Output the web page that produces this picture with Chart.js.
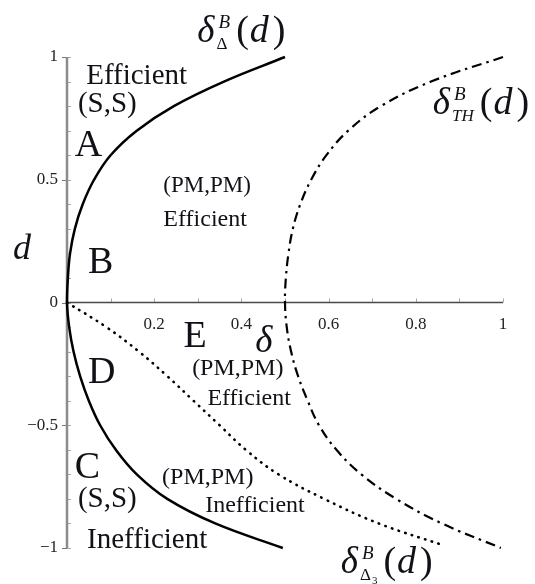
<!DOCTYPE html>
<html>
<head>
<meta charset="utf-8">
<script src="https://cdn.jsdelivr.net/npm/chart.js@4/dist/chart.umd.min.js"></script>
<style>
  html, body { margin: 0; padding: 0; background: #fff; }
</style>
</head>
<body>
<canvas id="graphique" width="535" height="584"></canvas>
<script>
// valeurs de d (axe vertical), du haut vers le bas
const valeursD = [1, 0.9, 0.8, 0.7, 0.6, 0.5, 0.4, 0.3, 0.2, 0.1, 0, -0.1, -0.2, -0.3, -0.4, -0.5, -0.6, -0.7, -0.8, -0.9, -1];
// delta_Delta^B(d) : courbe pleine
const deltaDelta = [0.5, 0.36, 0.245, 0.16, 0.1, 0.062, 0.036, 0.018, 0.007, 0.002, 0, 0.005, 0.015, 0.03, 0.05, 0.076, 0.112, 0.16, 0.23, 0.34, 0.495];
// delta_TH^B(d) : courbe trait-point
const deltaTH = [1.0, 0.835, 0.72, 0.645, 0.595, 0.56, 0.535, 0.518, 0.508, 0.502, 0.5, 0.504, 0.514, 0.53, 0.552, 0.578, 0.618, 0.675, 0.755, 0.86, 0.995];
// delta_Delta3^B(d) : courbe pointillee, seulement pour d <= 0
const valeursD3 = [0, -0.1, -0.2, -0.3, -0.4, -0.5, -0.6, -0.7, -0.8, -0.9, -0.99];
const deltaDelta3 = [0, 0.09, 0.165, 0.23, 0.29, 0.35, 0.41, 0.485, 0.59, 0.715, 0.865];

const ticksX = [0.2, 0.4, 0.6, 0.8, 1];
const ticksY = [1, 0.5, 0, -0.5, -1];

// textes des zones : [texte, delta, d, taille, italique]
const zones = [
    ["Efficient", 0.044, 0.89, 29, false],
    ["(S,S)", 0.025, 0.776, 29, false],
    ["A", 0.018, 0.596, 38, false],
    ["(PM,PM)", 0.221, 0.449, 23, false],
    ["Efficient", 0.221, 0.31, 24, false],
    ["B", 0.048, 0.122, 38, false],
    ["E", 0.267, -0.18, 38, false],
    ["D", 0.048, -0.327, 38, false],
    ["(PM,PM)", 0.287, -0.294, 24, false],
    ["Efficient", 0.322, -0.416, 24, false],
    ["C", 0.018, -0.714, 38, false],
    ["(S,S)", 0.025, -0.833, 29, false],
    ["Inefficient", 0.046, -1.0, 29, false],
    ["(PM,PM)", 0.218, -0.739, 24, false],
    ["Inefficient", 0.317, -0.853, 24, false],
    ["d", -0.124, 0.176, 36, true],
    ["\u03b4", 0.432, -0.2, 37, true]
];

// noms des courbes : [indice, italique, petit indice, delta, d]
const nomsCourbes = [
    ["\u0394", false, "", 0.299, 1.061],
    ["TH", true, "", 0.839, 0.767],
    ["\u0394", false, "3", 0.628, -1.102]
];

const SERIF = "'Liberation Serif', 'DejaVu Serif', serif";
const ENCRE = "#111118";

function points(xs, ys) {
    let p = [];
    for (let n = 0; n < xs.length; n++) {
        p.push({x: xs[n], y: ys[n]});
    }
    return p;
}

function police(taille, italique) {
    return (italique ? "italic " : "") + taille + "px " + SERIF;
}

// nom de courbe du genre delta^B_TH(d)
function dessinerNom(ctx, x, y, indice, italique, petit) {
    ctx.textAlign = "left";
    ctx.textBaseline = "alphabetic";
    ctx.font = police(37, true);
    ctx.fillText("\u03b4", x, y);
    let x0 = x + ctx.measureText("\u03b4").width + 2;
    ctx.font = police(19, true);
    ctx.fillText("B", x0 + 2, y - 14);
    let lB = ctx.measureText("B").width + 2;
    ctx.font = police(17, italique);
    ctx.fillText(indice, x0, y + 7);
    let lI = ctx.measureText(indice).width;
    if (petit) {
        ctx.font = police(11, false);
        ctx.fillText(petit, x0 + lI + 1, y + 11);
        lI += ctx.measureText(petit).width + 1;
    }
    let xp = x0 + Math.max(lB, lI) + 6;
    ctx.font = police(38, false);
    ctx.fillText("(", xp, y);
    xp += ctx.measureText("(").width + 1;
    ctx.font = police(38, true);
    ctx.fillText("d", xp, y);
    xp += ctx.measureText("d").width + 4;
    ctx.font = police(38, false);
    ctx.fillText(")", xp, y);
}

// axes qui se croisent en (0,0), graduations tous les 0.1
const axesCroises = {
    id: "axesCroises",
    beforeDatasetsDraw(chart) {
        const ctx = chart.ctx;
        const sx = chart.scales.x, sy = chart.scales.y;
        const x0 = sx.getPixelForValue(0), y0 = sy.getPixelForValue(0);
        ctx.save();
        // petites graduations
        ctx.lineWidth = 1;
        ctx.strokeStyle = "#a8a8a8";
        for (let n = 1; n <= 10; n++) {
            let px = Math.round(sx.getPixelForValue(n / 10)) + 0.5;
            ctx.beginPath();
            ctx.moveTo(px, y0);
            ctx.lineTo(px, y0 - 4);
            ctx.stroke();
        }
        for (let n = -10; n <= 10; n++) {
            let py = Math.round(sy.getPixelForValue(n / 10)) + 0.5;
            ctx.beginPath();
            ctx.moveTo(x0, py);
            ctx.lineTo(x0 + 4, py);
            ctx.stroke();
        }
        ctx.strokeStyle = "#777";
        for (let v of ticksY) {
            let py = Math.round(sy.getPixelForValue(v)) + 0.5;
            ctx.beginPath();
            ctx.moveTo(x0 - 5, py);
            ctx.lineTo(x0, py);
            ctx.stroke();
        }
        // axe vertical
        ctx.strokeStyle = "#8c8c8c";
        ctx.lineWidth = 2.5;
        ctx.beginPath();
        ctx.moveTo(x0, sy.getPixelForValue(1));
        ctx.lineTo(x0, sy.getPixelForValue(-1));
        ctx.stroke();
        // axe horizontal
        ctx.strokeStyle = "#4a4a4a";
        ctx.lineWidth = 1.5;
        ctx.beginPath();
        ctx.moveTo(x0, y0);
        ctx.lineTo(sx.getPixelForValue(1), y0);
        ctx.stroke();
        // etiquettes des graduations
        ctx.fillStyle = "#222";
        ctx.font = police(17, false);
        ctx.textAlign = "center";
        ctx.textBaseline = "alphabetic";
        for (let v of ticksX) {
            ctx.fillText(String(v), sx.getPixelForValue(v), y0 + 26);
        }
        ctx.textAlign = "right";
        ctx.textBaseline = "middle";
        for (let v of ticksY) {
            let t = String(Math.abs(v));
            if (v < 0) t = "\u2212" + t;
            ctx.fillText(t, x0 - 9, sy.getPixelForValue(v));
        }
        ctx.restore();
    },
    afterDatasetsDraw(chart) {
        const ctx = chart.ctx;
        const sx = chart.scales.x, sy = chart.scales.y;
        ctx.save();
        ctx.fillStyle = ENCRE;
        ctx.textAlign = "left";
        ctx.textBaseline = "alphabetic";
        for (let z of zones) {
            ctx.font = police(z[3], z[4]);
            ctx.fillText(z[0], sx.getPixelForValue(z[1]), sy.getPixelForValue(z[2]));
        }
        for (let c of nomsCourbes) {
            dessinerNom(ctx, sx.getPixelForValue(c[3]), sy.getPixelForValue(c[4]), c[0], c[1], c[2]);
        }
        ctx.restore();
    }
};

function courbe(donnees, pointilles, epaisseur, bout) {
    return {
        data: donnees,
        showLine: true,
        borderColor: "#000",
        borderWidth: epaisseur,
        borderDash: pointilles,
        borderCapStyle: bout || "butt",
        pointRadius: 0,
        tension: 0.4,
        fill: false,
        clip: 6
    };
}

window.graphique = new Chart(document.getElementById("graphique"), {
    type: "scatter",
    data: {
        datasets: [
            courbe(points(deltaDelta, valeursD), [], 2.5),
            courbe(points(deltaTH, valeursD), [10, 5, 2.5, 5], 2.2),
            courbe(points(deltaDelta3, valeursD3), [0.5, 6.5], 2.6, "round")
        ]
    },
    options: {
        responsive: false,
        animation: false,
        layout: { padding: { left: 67, right: 32, top: 57, bottom: 36 } },
        plugins: { legend: { display: false }, tooltip: { enabled: false } },
        scales: {
            x: { type: "linear", min: 0, max: 1, display: false },
            y: { type: "linear", min: -1, max: 1, display: false }
        }
    },
    plugins: [axesCroises]
});
</script>
</body>
</html>
